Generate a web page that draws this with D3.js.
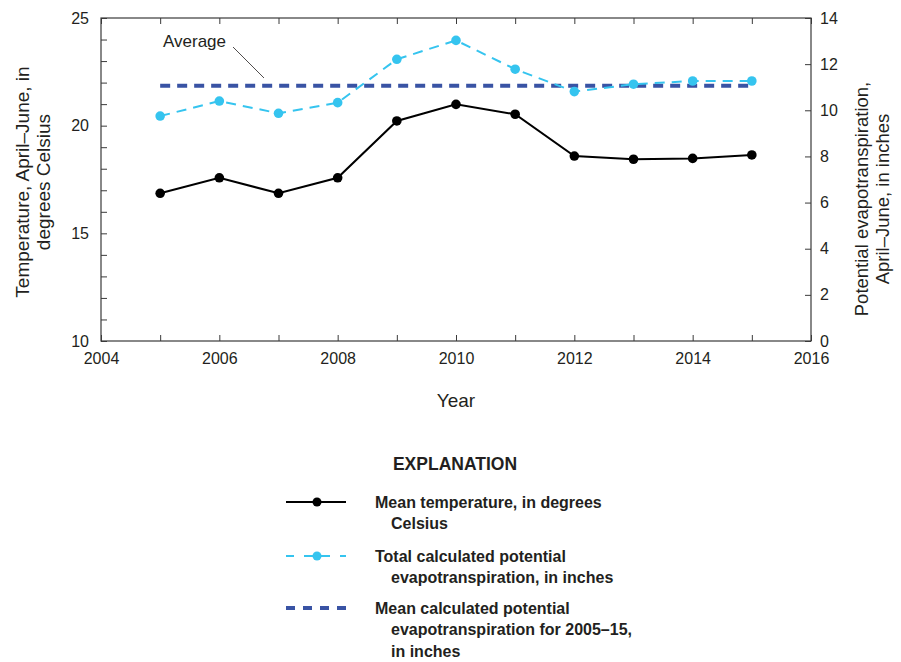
<!DOCTYPE html>
<html>
<head>
<meta charset="utf-8">
<script src="https://cdn.jsdelivr.net/npm/d3@7"></script>
<style>
  body { margin: 0; background: #fff; }
  svg text { font-family: "Liberation Sans Narrow", "Arial Narrow", "Liberation Sans", sans-serif; fill: #231f20; }
</style>
</head>
<body>
<svg id="chart" width="901" height="662"></svg>
<script>
// April–June summaries, 2005–15
const years = [2005, 2006, 2007, 2008, 2009, 2010, 2011, 2012, 2013, 2014, 2015];
const meanTemperature = [16.86, 17.58, 16.86, 17.58, 20.22, 20.99, 20.53, 18.59, 18.44, 18.48, 18.64];
const totalPET = [9.75, 10.40, 9.87, 10.33, 12.21, 13.03, 11.78, 10.81, 11.13, 11.27, 11.27];
const meanPET = 11.06;

const xTickLabels = [2004, 2006, 2008, 2010, 2012, 2014, 2016];
const leftTickLabels = [10, 15, 20, 25];
const rightTickLabels = [0, 2, 4, 6, 8, 10, 12, 14];

const svg = d3.select("#chart");
const plotL = 101, plotR = 811, plotT = 18, plotB = 341;

const x = d3.scaleLinear().domain([2004, 2016]).range([plotL, plotR]);
const yT = d3.scaleLinear().domain([10, 25]).range([plotB, plotT]);
const yP = d3.scaleLinear().domain([0, 14]).range([plotB, plotT]);

const axisColor = "#3a3a3a";
const tickFont = 16;
const fontFam = "Liberation Sans Narrow, Arial Narrow, Liberation Sans, sans-serif";

// Frame
svg.append("rect").attr("x", plotL).attr("y", plotT)
  .attr("width", plotR - plotL).attr("height", plotB - plotT)
  .attr("fill", "none").attr("stroke", axisColor).attr("stroke-width", 1.2);

// Bottom and top axes: inward ticks every year, labels every other year
svg.append("g").attr("transform", `translate(0,${plotB})`)
  .call(d3.axisBottom(x).tickValues(d3.range(2004, 2017, 1)).tickSize(-6).tickFormat(""))
  .call(g => g.select(".domain").remove())
  .call(g => g.selectAll("line").attr("stroke", axisColor));
svg.append("g").attr("transform", `translate(0,${plotT})`)
  .call(d3.axisTop(x).tickValues(d3.range(2004, 2017, 1)).tickSize(-6).tickFormat(""))
  .call(g => g.select(".domain").remove())
  .call(g => g.selectAll("line").attr("stroke", axisColor));
svg.append("g").attr("transform", `translate(0,${plotB})`)
  .call(d3.axisBottom(x).tickValues(xTickLabels).tickSize(0).tickPadding(12).tickFormat(d3.format("d")))
  .call(g => g.select(".domain").remove())
  .call(g => g.selectAll("text").attr("font-size", tickFont).attr("fill", "#231f20").attr("font-family", fontFam));

// Left axis: temperature
svg.append("g").attr("transform", `translate(${plotL},0)`)
  .call(d3.axisLeft(yT).tickValues(d3.range(10, 26, 1)).tickSize(-6).tickFormat(""))
  .call(g => g.select(".domain").remove())
  .call(g => g.selectAll("line").attr("stroke", axisColor));
svg.append("g").attr("transform", `translate(${plotL},0)`)
  .call(d3.axisLeft(yT).tickValues(leftTickLabels).tickSize(0).tickPadding(12).tickFormat(d3.format("d")))
  .call(g => g.select(".domain").remove())
  .call(g => g.selectAll("text").attr("font-size", tickFont).attr("fill", "#231f20").attr("font-family", fontFam));

// Right axis: potential evapotranspiration
svg.append("g").attr("transform", `translate(${plotR},0)`)
  .call(d3.axisRight(yP).tickValues(rightTickLabels).tickSize(-6).tickFormat(""))
  .call(g => g.select(".domain").remove())
  .call(g => g.selectAll("line").attr("stroke", axisColor));
svg.append("g").attr("transform", `translate(${plotR},0)`)
  .call(d3.axisRight(yP).tickValues(rightTickLabels).tickSize(0).tickPadding(9).tickFormat(d3.format("d")))
  .call(g => g.select(".domain").remove())
  .call(g => g.selectAll("text").attr("font-size", tickFont).attr("fill", "#231f20").attr("font-family", fontFam));

// Axis titles
svg.append("text").attr("x", 456).attr("y", 407).attr("text-anchor", "middle")
  .attr("font-size", 19).text("Year");

const lt = svg.append("text").attr("transform", `translate(22,182) rotate(-90)`)
  .attr("text-anchor", "middle").attr("font-size", 19);
lt.append("tspan").attr("x", 0).attr("dy", "0.35em").text("Temperature, April–June, in");
lt.append("tspan").attr("x", 0).attr("dy", 21).text("degrees Celsius");

const rt = svg.append("text").attr("transform", `translate(862,199) rotate(-90)`)
  .attr("text-anchor", "middle").attr("font-size", 18.5);
rt.append("tspan").attr("x", 0).attr("dy", "0.35em").text("Potential evapotranspiration,");
rt.append("tspan").attr("x", 0).attr("dy", 21).text("April–June, in inches");

// Colours
const black = "#000000";
const cyan = "#35c4ef";
const navy = "#3953a4";

// Mean PET line
svg.append("line")
  .attr("x1", x(years[0])).attr("x2", x(years[years.length - 1]))
  .attr("y1", yP(meanPET)).attr("y2", yP(meanPET))
  .attr("stroke", navy).attr("stroke-width", 4).attr("stroke-dasharray", "10,7");

// Total PET series
const petData = years.map((yr, i) => [yr, totalPET[i]]);
svg.append("path").datum(petData)
  .attr("d", d3.line().x(d => x(d[0])).y(d => yP(d[1])))
  .attr("fill", "none").attr("stroke", cyan).attr("stroke-width", 2).attr("stroke-dasharray", "10,7");
svg.append("g").selectAll("circle").data(petData).join("circle")
  .attr("cx", d => x(d[0])).attr("cy", d => yP(d[1])).attr("r", 4.8).attr("fill", cyan);

// Temperature series
const tData = years.map((yr, i) => [yr, meanTemperature[i]]);
svg.append("path").datum(tData)
  .attr("d", d3.line().x(d => x(d[0])).y(d => yT(d[1])))
  .attr("fill", "none").attr("stroke", black).attr("stroke-width", 2);
svg.append("g").selectAll("circle").data(tData).join("circle")
  .attr("cx", d => x(d[0])).attr("cy", d => yT(d[1])).attr("r", 4.8).attr("fill", black);

// "Average" callout
svg.append("text").attr("x", 163).attr("y", 47).attr("font-size", 17).text("Average");
svg.append("line").attr("x1", 233).attr("y1", 47).attr("x2", 264).attr("y2", 78)
  .attr("stroke", "#231f20").attr("stroke-width", 0.8);

// Explanation
svg.append("text").attr("x", 455).attr("y", 470).attr("text-anchor", "middle")
  .attr("font-size", 17.5).attr("font-weight", "bold").text("EXPLANATION");

const legendItems = [
  { y: 502, lines: ["Mean temperature, in degrees", "Celsius"], kind: "temp" },
  { y: 556, lines: ["Total calculated potential", "evapotranspiration, in inches"], kind: "pet" },
  { y: 608, lines: ["Mean calculated potential", "evapotranspiration for 2005–15,", "in inches"], kind: "mean" }
];
const lx1 = 286, lx2 = 346, lmid = 317;
legendItems.forEach(item => {
  const g = svg.append("g");
  if (item.kind === "temp") {
    g.append("line").attr("x1", lx1).attr("x2", lx2).attr("y1", item.y).attr("y2", item.y)
      .attr("stroke", black).attr("stroke-width", 2);
    g.append("circle").attr("cx", lmid).attr("cy", item.y).attr("r", 4.5).attr("fill", black);
  } else if (item.kind === "pet") {
    g.append("line").attr("x1", lx1).attr("x2", lx2).attr("y1", item.y).attr("y2", item.y)
      .attr("stroke", cyan).attr("stroke-width", 2).attr("stroke-dasharray", "8,10");
    g.append("line").attr("x1", lmid - 10).attr("x2", lmid + 10).attr("y1", item.y).attr("y2", item.y)
      .attr("stroke", cyan).attr("stroke-width", 2);
    g.append("circle").attr("cx", lmid).attr("cy", item.y).attr("r", 4.5).attr("fill", cyan);
  } else {
    g.append("line").attr("x1", lx1).attr("x2", lx2).attr("y1", item.y).attr("y2", item.y)
      .attr("stroke", navy).attr("stroke-width", 4).attr("stroke-dasharray", "9,8");
  }
  item.lines.forEach((t, i) => {
    g.append("text").attr("x", i === 0 ? 375 : 391).attr("y", item.y + i * 21.5)
      .attr("dy", "0.35em").attr("font-size", 16).attr("font-weight", "bold").text(t);
  });
});
</script>
</body>
</html>
